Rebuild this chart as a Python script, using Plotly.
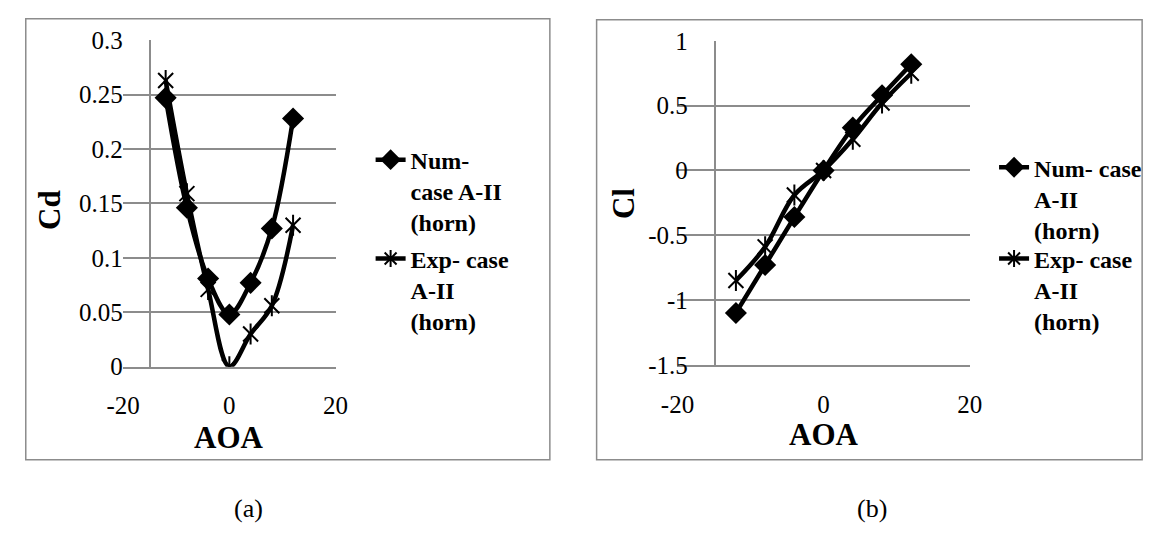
import plotly.graph_objects as go

# ---- data ----
aoa = [-12, -8, -4, 0, 4, 8, 12]
cd_num = [0.247, 0.146, 0.081, 0.048, 0.077, 0.127, 0.228]
cd_exp = [0.263, 0.159, 0.071, 0.0, 0.030, 0.056, 0.130]
cl_num = [-1.10, -0.73, -0.36, 0.0, 0.33, 0.58, 0.82]
cl_exp = [-0.85, -0.59, -0.19, 0.0, 0.24, 0.52, 0.75]

x_ticks = [-20, 0, 20]
x_ticklabels = ["-20", "0", "20"]
cd_ticks = [0, 0.05, 0.1, 0.15, 0.2, 0.25, 0.3]
cd_ticklabels = ["0", "0.05", "0.1", "0.15", "0.2", "0.25", "0.3"]
cl_ticks = [-1.5, -1, -0.5, 0, 0.5, 1]
cl_ticklabels = ["-1.5", "-1", "-0.5", "0", "0.5", "1"]

num_left_name = "Num-<br>case A-II<br>(horn)"
exp_left_name = "Exp- case<br>A-II<br>(horn)"
num_right_name = "Num- case<br>A-II<br>(horn)"
exp_right_name = "Exp- case<br>A-II<br>(horn)"

W, H = 1160, 548
FONT = "'Liberation Serif', 'Times New Roman', Tinos, Times, 'DejaVu Serif', serif"
GRID = "#8c8c8c"


def px(x):
    return x / W


def py(y):
    return 1 - y / H


fig = go.Figure()

line_w = 4.5
star_size = 15


def add_pair(xa, ya, num_vals, exp_vals, num_name, exp_name, leg_num, leg_exp):
    fig.add_trace(go.Scatter(
        x=aoa, y=num_vals, mode="lines+markers", name=num_name,
        line=dict(color="black", width=line_w, shape="spline", smoothing=1),
        marker=dict(symbol="diamond", size=17, color="black"),
        xaxis=xa, yaxis=ya, legend=leg_num, showlegend=True,
    ))
    fig.add_trace(go.Scatter(
        x=aoa, y=exp_vals, mode="lines+markers", name=exp_name,
        line=dict(color="black", width=line_w, shape="spline", smoothing=1),
        marker=dict(symbol="x-thin-open", size=star_size, color="black",
                    line=dict(color="black", width=2)),
        xaxis=xa, yaxis=ya, showlegend=False,
    ))
    fig.add_trace(go.Scatter(
        x=aoa, y=exp_vals, mode="markers",
        marker=dict(symbol="line-ns-open", size=star_size, color="black",
                    line=dict(color="black", width=2)),
        xaxis=xa, yaxis=ya, showlegend=False, hoverinfo="skip",
    ))
    # legend entry for the star series (X + vertical line over the series line)
    fig.add_trace(go.Scatter(
        x=[None], y=[None], mode="lines+markers", name=exp_name,
        line=dict(color="black", width=line_w),
        marker=dict(symbol="asterisk-open", size=14, color="black",
                    line=dict(color="black", width=2)),
        xaxis=xa, yaxis=ya, legend=leg_exp, showlegend=True,
    ))


add_pair("x", "y", cd_num, cd_exp, num_left_name, exp_left_name, "legend", "legend2")
add_pair("x2", "y2", cl_num, cl_exp, num_right_name, exp_right_name, "legend3", "legend4")

tickfont = dict(family=FONT, size=25, color="black")

common_x = dict(range=[-20, 20], tickvals=x_ticks, ticktext=x_ticklabels,
                showgrid=False, zeroline=False, showline=True, linecolor=GRID,
                linewidth=1.5, ticks="", tickfont=tickfont, ticklabelstandoff=16,
                fixedrange=True)
common_y = dict(showgrid=True, gridcolor=GRID, gridwidth=1.5, zeroline=False,
                showline=True, linecolor=GRID, linewidth=1.5, ticks="",
                tickfont=tickfont, anchor="free", ticklabelstandoff=22,
                fixedrange=True)

legfont = dict(family=FONT, size=24, color="black", weight="bold")


def leg(xp, yp):
    return dict(x=px(xp), y=py(yp), xanchor="left", yanchor="top",
                font=legfont, bgcolor="rgba(0,0,0,0)", valign="top",
                itemclick=False, itemdoubleclick=False)


fig.update_layout(
    width=W, height=H,
    margin=dict(l=0, r=0, t=0, b=0),
    paper_bgcolor="white", plot_bgcolor="white",
    font=dict(family=FONT, color="black"),
    xaxis=dict(domain=[px(109), px(327)], anchor="y", **common_x),
    yaxis=dict(domain=[py(372), py(28.6)], range=[0, 0.3],
               tickvals=cd_ticks, ticktext=cd_ticklabels,
               position=px(137), **common_y),
    xaxis2=dict(domain=[px(678), px(978)], anchor="y2", **common_x),
    yaxis2=dict(domain=[py(370), py(29.3)], range=[-1.5, 1],
                tickvals=cl_ticks, ticktext=cl_ticklabels,
                position=px(717), **common_y),
    legend=leg(363, 131),
    legend2=leg(363, 235),
    legend3=leg(1003, 139),
    legend4=leg(1003, 235),
    shapes=[
        dict(type="rect", xref="paper", yref="paper",
             x0=px(9), x1=px(547), y0=py(470), y1=py(6),
             line=dict(color=GRID, width=1.5)),
        dict(type="rect", xref="paper", yref="paper",
             x0=px(595), x1=px(1155), y0=py(470), y1=py(7),
             line=dict(color=GRID, width=1.5)),
    ],
)

title_font = dict(family=FONT, size=31, color="black", weight="bold")
annots = [
    dict(text="Cd", x=px(34), y=py(207), textangle=-90, font=title_font),
    dict(text="AOA", x=px(218), y=py(446), font=title_font),
    dict(text="Cl", x=px(622), y=py(200), textangle=-90, font=title_font),
    dict(text="AOA", x=px(828), y=py(443), font=title_font),
    dict(text="(a)", x=px(238), y=py(521), font=dict(family=FONT, size=26, color="black")),
    dict(text="(b)", x=px(878), y=py(521), font=dict(family=FONT, size=26, color="black")),
]
for a in annots:
    fig.add_annotation(xref="paper", yref="paper", showarrow=False,
                       xanchor="center", yanchor="middle", **a)

fig.write_html("out.html")
